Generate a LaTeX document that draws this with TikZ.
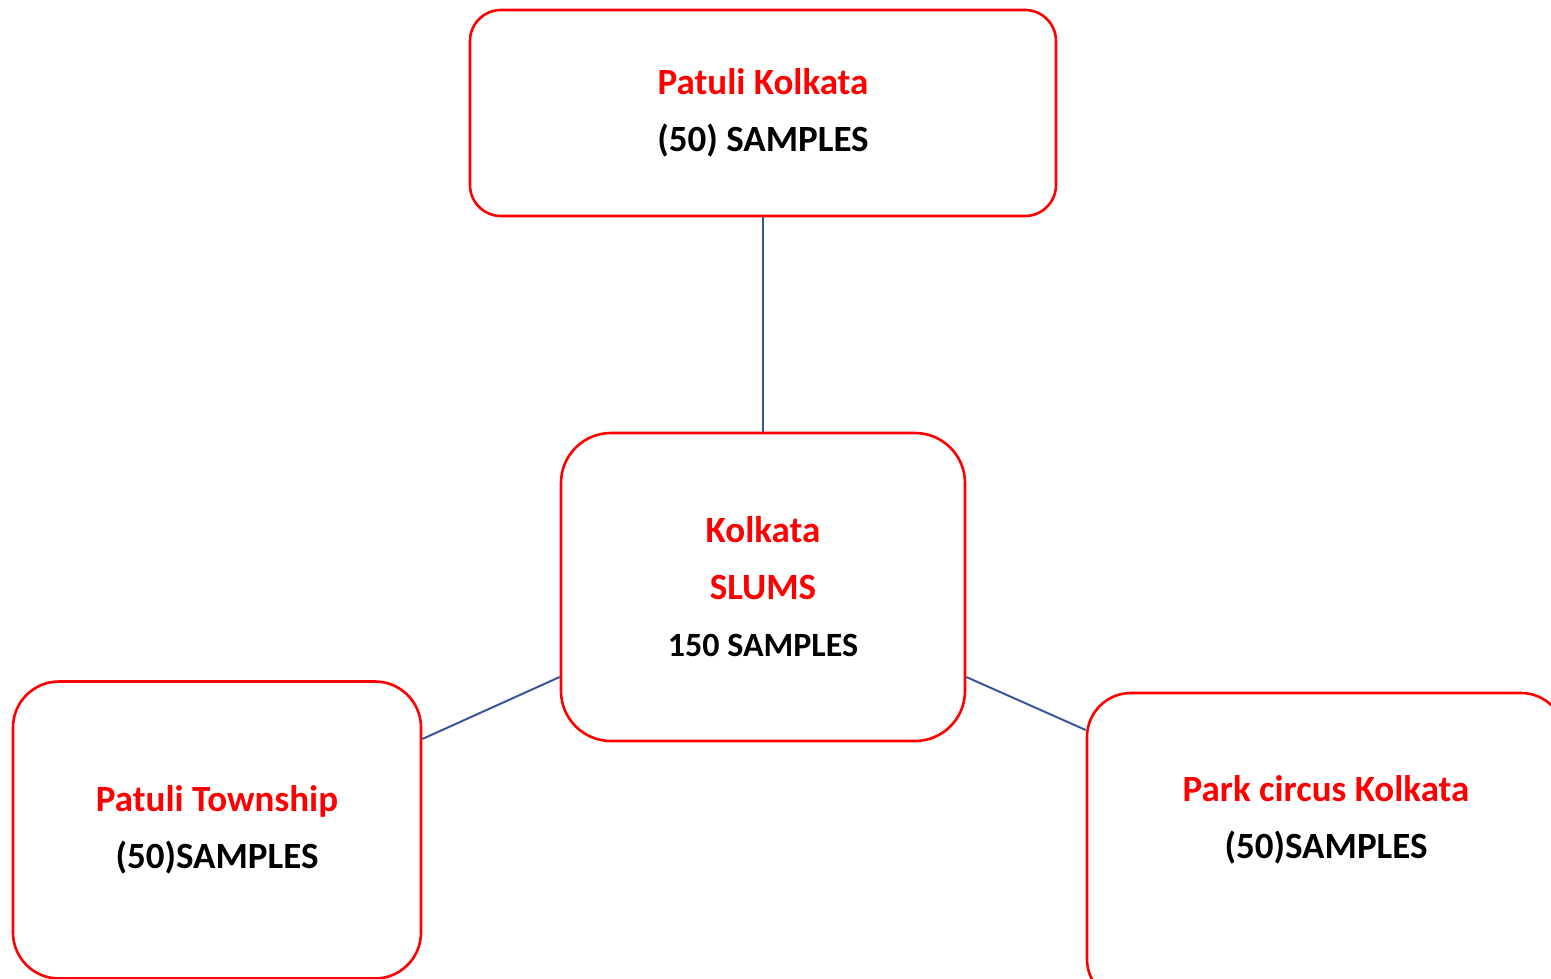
\documentclass[tikz,border=0pt]{standalone}
\usepackage{fontspec}
\setmainfont{Carlito}
\usetikzlibrary{positioning,calc}

\definecolor{boxred}{RGB}{255,0,0}
\definecolor{linkblue}{RGB}{56,87,155}

\begin{document}
\begin{tikzpicture}[
  x=1pt, y=-1pt,
  box/.style={rectangle, draw=boxred, line width=2.6pt, inner sep=0pt,
    align=center, font=\fontsize{37}{57}\selectfont\bfseries},
  txt/.style={align=center, inner sep=0pt, font=\fontsize{37}{57}\selectfont\bfseries},
  link/.style={draw=linkblue, line width=2pt}
]

\useasboundingbox (0,0) rectangle (1551,979);

% --- Caixa central ---
\node[box, rounded corners=50pt, minimum width=404pt, minimum height=308pt] (hub) at (763,587)
  {\textcolor{boxred}{Kolkata}\\\textcolor{boxred}{SLUMS}\\{\fontsize{34}{55}\selectfont 150 SAMPLES}};

% --- Caixas dos locais ---
\node[box, rounded corners=31pt, minimum width=586pt, minimum height=206pt] (patuli) at (763,113)
  {\textcolor{boxred}{Patuli Kolkata}\\(50) SAMPLES};
\node[box, rounded corners=46pt, minimum width=408pt, minimum height=297pt] (township) at (217,830)
  {\textcolor{boxred}{Patuli Township}\\(50)SAMPLES};
\node[box, rounded corners=44pt, minimum width=478pt, minimum height=310pt] (park) at (1326,848) {};
\node[txt] (park_txt) at (1326,820) {\textcolor{boxred}{Park circus Kolkata}\\(50)SAMPLES};

% --- Ligações ---
\draw[link] (patuli.south) -- (hub.north);
\draw[link] ([yshift=-90pt]hub.west) -- ([yshift=91pt]township.east);
\draw[link] ([yshift=-90pt]hub.east) -- ([yshift=118pt]park.west);

\end{tikzpicture}
\end{document}
